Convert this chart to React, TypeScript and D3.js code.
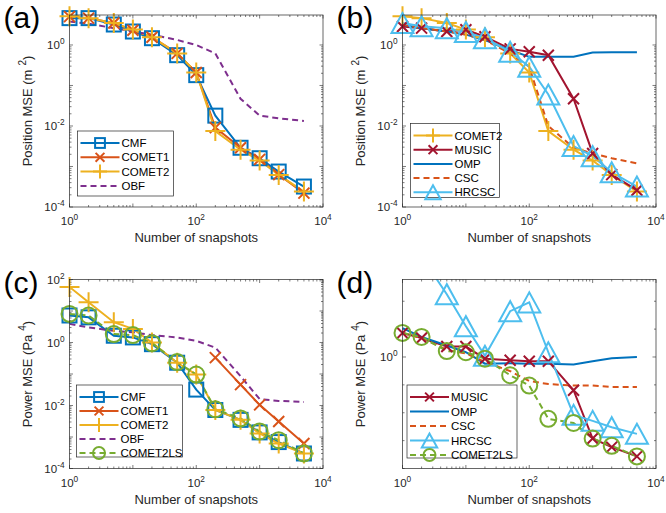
import * as d3 from "d3";
import React from "react";

// number of snapshots (x axis of every panel)
const snapshots = [1, 2, 5, 10, 20, 50, 100, 200, 500, 1000, 2000, 5000];

// (a) position MSE
const cmfPos = [4.6, 4.6, 3.2, 2.15, 1.47, 0.56, 0.18, 0.018, 0.0029, 0.0016, 7.5e-4, 3.2e-4];
const comet1Pos = [5.0, 4.6, 3.5, 2.3, 1.55, 0.62, 0.21, 0.0091, 0.0029, 0.0015, 6.3e-4, 2.2e-4];
const comet2Pos = [5.1, 4.6, 3.5, 2.4, 1.55, 0.62, 0.21, 0.0075, 0.0026, 0.0014, 6.2e-4, 2.4e-4];
const obfPos = [3.8, 3.35, 2.6, 2.15, 1.8, 1.33, 1.0, 0.62, 0.047, 0.018, 0.0155, 0.0133];

// (b) position MSE, other methods
const musicPos = [2.87, 2.6, 2.15, 2.37, 1.6, 0.8, 0.68, 0.56, 0.047, 0.0021, 6.3e-4, 2.6e-4];
const ompPos = [3.16, 2.6, 2.15, 1.8, 1.33, 0.75, 0.51, 0.51, 0.51, 0.65, 0.66, 0.66];
const cscPos = [3.16, 2.6, 2.15, 1.8, 1.33, 0.62, 0.29, 0.01, 0.0029, 0.0021, 0.0016, 0.0012];
const hrcscPos = [3.47, 2.9, 2.6, 2.1, 1.47, 0.68, 0.29, 0.06, 0.0032, 0.0018, 7.2e-4, 3.2e-4];

// (c) power MSE
const cmfPow = [7.2, 6.3, 1.64, 1.45, 0.885, 0.228, 0.032, 0.0072, 0.0035, 0.0014, 6.9e-4, 3.0e-4];
const comet1Pow = [null, null, null, null, null, null, null, 0.33, 0.046, 0.0105, 0.0031, 6.2e-4];
const comet2Pow = [58, 19, 4.4, 2.7, 1.0, 0.228, 0.096, 0.0072, 0.0035, 0.0013, 6.2e-4, 3.0e-4];
const obfPow = [3.9, 3.0, 2.35, 2.1, 1.72, 1.45, 1.13, 0.69, 0.085, 0.016, 0.014, 0.013];
const comet2lsPow = [8.1, 7.2, 1.85, 1.72, 0.95, 0.24, 0.096, 0.0076, 0.0039, 0.0015, 7.9e-4, 3.0e-4];

// (d) power MSE, other methods
const musicPow = [1.22, 1.17, 1.09, 1.09, 0.986, 0.973, 0.966, 0.966, 0.76, 0.51, 0.475, 0.44];
const ompPow = [1.27, 1.18, 1.1, 1.04, 0.946, 0.95, 0.946, 0.946, 0.94, 0.966, 0.99, 1.0];
const cscPow = [1.22, 1.17, 1.06, 1.03, 0.96, 0.89, 0.82, 0.8, 0.79, 0.79, 0.78, 0.78];
const hrcscPow = [3.16, 2.29, 1.68, 1.29, 1.01, 1.46, 1.57, 1.04, 0.62, 0.59, 0.56, 0.53];
const comet2lsPowD = [1.22, 1.18, 1.05, 1.04, 0.986, 0.86, 0.79, 0.6, 0.58, 0.51, 0.48, 0.44];

const C = {
  blue: "#0072BD",
  orange: "#D95319",
  yellow: "#EDB120",
  purple: "#7E2F8E",
  green: "#77AC30",
  cyan: "#4DBEEE",
  red: "#A2142F",
};

const FONT = "'Liberation Sans', Arial, Helvetica, sans-serif";
const AX = "#262626";

type Series = { name: string; values: (number | null)[]; color: string; dash?: string; marker?: string };

function Marker({ type, x, y, color, legend }: { type?: string; x: number; y: number; color: string; legend?: boolean }) {
  const k = legend ? 0.7 : 1;
  const sw = 2;
  if (type === "square") {
    const s = 14 * k;
    return <rect x={x - s / 2} y={y - s / 2} width={s} height={s} fill="none" stroke={color} strokeWidth={sw} />;
  }
  if (type === "x") {
    const h = 5.5 * (legend ? 0.8 : 1);
    return (
      <path d={`M${x - h},${y - h}L${x + h},${y + h}M${x - h},${y + h}L${x + h},${y - h}`} stroke={color} strokeWidth={sw} />
    );
  }
  if (type === "plus") {
    const h = 10 * k;
    return <path d={`M${x - h},${y}L${x + h},${y}M${x},${y - h}L${x},${y + h}`} stroke={color} strokeWidth={sw} />;
  }
  if (type === "tri") {
    const w = 11 * k;
    const h = 10 * k;
    return (
      <polygon
        points={`${x},${y - h} ${x - w},${y + h} ${x + w},${y + h}`}
        fill="none"
        stroke={color}
        strokeWidth={sw}
      />
    );
  }
  if (type === "circle") {
    return <circle cx={x} cy={y} r={8 * (legend ? 0.75 : 1)} fill="none" stroke={color} strokeWidth={sw} />;
  }
  return null;
}

function Pow({ base, exp, size = 11.5 }: { base: string; exp: string; size?: number }) {
  return (
    <>
      {base}
      <tspan dy={-5} fontSize={size * 0.72}>
        {exp}
      </tspan>
    </>
  );
}

type PanelProps = {
  id: string;
  tag: string;
  left: number;
  top: number;
  width: number;
  height: number;
  yDomain: [number, number];
  yTicks: number[];
  yLabels: { v: number; exp: string }[];
  yTitle: string;
  yUnitExp: string;
  series: Series[];
  legend: { x: number; y: number; w: number; h: number; step: number };
};

function Panel(p: PanelProps) {
  const x = d3.scaleLog().domain([1, 1e4]).range([p.left, p.left + p.width]);
  const y = d3.scaleLog().domain(p.yDomain).range([p.top + p.height, p.top]);
  const bottom = p.top + p.height;
  const right = p.left + p.width;

  const xMinor: number[] = [];
  for (let d = 1; d < 1e4; d *= 10) for (let k = 2; k < 10; k++) xMinor.push(d * k);
  const xMajor = [1, 10, 100, 1000, 10000];

  const line = d3
    .line<[number, number | null]>()
    .defined((d) => d[1] != null)
    .x((d) => x(d[0]))
    .y((d) => y(d[1] as number));

  const inside = (v: number | null) => v != null && v >= p.yDomain[0] && v <= p.yDomain[1];

  return (
    <g fontFamily={FONT}>
      <defs>
        <clipPath id={`clip-${p.id}`}>
          <rect x={p.left} y={p.top} width={p.width} height={p.height} />
        </clipPath>
      </defs>
      <rect x={p.left} y={p.top} width={p.width} height={p.height} fill="#fff" />

      {/* ticks on all four sides */}
      <g stroke={AX} strokeWidth={0.6}>
        {xMajor.concat(xMinor).map((v, i) => {
          const len = xMajor.includes(v) ? 3.5 : 2;
          const px = x(v);
          return (
            <g key={"xt" + i}>
              <line x1={px} x2={px} y1={bottom} y2={bottom - len} />
              <line x1={px} x2={px} y1={p.top} y2={p.top + len} />
            </g>
          );
        })}
        {p.yTicks.map((v, i) => {
          const major = p.yLabels.some((l) => Math.abs(l.v - v) < 1e-12) || Math.abs(Math.log10(v) % 1) < 1e-9;
          const len = major ? 3.5 : 2;
          const py = y(v);
          return (
            <g key={"yt" + i}>
              <line x1={p.left} x2={p.left + len} y1={py} y2={py} />
              <line x1={right} x2={right - len} y1={py} y2={py} />
            </g>
          );
        })}
      </g>

      {/* data */}
      <g clipPath={`url(#clip-${p.id})`}>
        {p.series.map((s) => (
          <path
            key={s.name + "-line"}
            d={line(snapshots.map((t, i) => [t, s.values[i]]) as [number, number | null][]) || ""}
            fill="none"
            stroke={s.color}
            strokeWidth={2}
            strokeDasharray={s.dash}
          />
        ))}
      </g>
      {p.series.map((s) => (
        <g key={s.name + "-mk"}>
          {snapshots.map((t, i) =>
            inside(s.values[i]) ? (
              <Marker key={i} type={s.marker} x={x(t)} y={y(s.values[i] as number)} color={s.color} />
            ) : null
          )}
        </g>
      ))}

      <rect x={p.left} y={p.top} width={p.width} height={p.height} fill="none" stroke={AX} strokeWidth={0.7} />

      {/* tick labels */}
      <g fontSize={11.5} fill={AX}>
        {[1, 100, 10000].map((v) => (
          <text key={"xl" + v} x={x(v)} y={bottom + 18} textAnchor="middle">
            <Pow base="10" exp={String(Math.round(Math.log10(v)))} />
          </text>
        ))}
        {p.yLabels.map((l) => (
          <text key={"yl" + l.exp} x={p.left - 5} y={y(l.v) + 4} textAnchor="end">
            <Pow base="10" exp={l.exp} />
          </text>
        ))}
      </g>

      <text x={p.left + p.width / 2} y={bottom + 35} textAnchor="middle" fontSize={13} fill={AX}>
        Number of snapshots
      </text>
      <text
        transform={`translate(${p.left - 38},${p.top + p.height / 2}) rotate(-90)`}
        textAnchor="middle"
        fontSize={13}
        fill={AX}
      >
        {p.yTitle}
        <tspan dy={-6} fontSize={10} dx={4}>
          {p.yUnitExp}
        </tspan>
        <tspan dy={6}>)</tspan>
      </text>

      {/* legend */}
      <g>
        <rect x={p.legend.x} y={p.legend.y} width={p.legend.w} height={p.legend.h} fill="#fff" stroke={AX} strokeWidth={0.7} />
        {p.series.map((s, i) => {
          const ly = p.legend.y + 12 + i * p.legend.step;
          const lx = p.legend.x + 3;
          return (
            <g key={s.name + "-lg"}>
              <line x1={lx} x2={lx + 39} y1={ly} y2={ly} stroke={s.color} strokeWidth={2} strokeDasharray={s.dash} />
              <Marker type={s.marker} x={lx + 19.5} y={ly} color={s.color} legend />
              <text x={lx + 41} y={ly + 4} fontSize={11.5} fill="#000">
                {s.name}
              </text>
            </g>
          );
        })}
      </g>

      <text x={p.left - 66} y={p.top + 13} fontSize={30} fill="#000">
        {p.tag}
      </text>
    </g>
  );
}

function decadeTicks(lo: number, hi: number) {
  const out: number[] = [];
  for (let e = lo; e < hi; e++) for (let k = 1; k < 10; k++) out.push(k * Math.pow(10, e));
  out.push(Math.pow(10, hi));
  return out;
}

const DASH = "6,4";

export default function App() {
  const posTicks = decadeTicks(-4, 0);
  const posLabels = [
    { v: 1, exp: "0" },
    { v: 1e-2, exp: "-2" },
    { v: 1e-4, exp: "-4" },
  ];
  const powTicks = decadeTicks(-4, 2);
  const powLabels = [
    { v: 100, exp: "2" },
    { v: 1, exp: "0" },
    { v: 1e-2, exp: "-2" },
    { v: 1e-4, exp: "-4" },
  ];
  const dTicks = [-4, -3, -2, -1, 0, 1, 2].map((k) => Math.pow(10, k / 10));

  const posDomain: [number, number] = [1e-4, Math.pow(10, 0.74)];

  return (
    <svg width={666} height={513} style={{ position: "absolute", left: 0, top: 0, background: "#fff" }}>
      <Panel
        id="a"
        tag="(a)"
        left={69.5}
        top={15}
        width={253.5}
        height={192}
        yDomain={posDomain}
        yTicks={posTicks}
        yLabels={posLabels}
        yTitle="Position MSE (m"
        yUnitExp="2"
        series={[
          { name: "CMF", values: cmfPos, color: C.blue, marker: "square" },
          { name: "COMET1", values: comet1Pos, color: C.orange, marker: "x" },
          { name: "COMET2", values: comet2Pos, color: C.yellow, marker: "plus" },
          { name: "OBF", values: obfPos, color: C.purple, dash: DASH },
        ]}
        legend={{ x: 77.5, y: 131, w: 96, h: 65, step: 14.3 }}
      />
      <Panel
        id="b"
        tag="(b)"
        left={402.5}
        top={15}
        width={253.5}
        height={192}
        yDomain={posDomain}
        yTicks={posTicks}
        yLabels={posLabels}
        yTitle="Position MSE (m"
        yUnitExp="2"
        series={[
          { name: "COMET2", values: comet2Pos, color: C.yellow, marker: "plus" },
          { name: "MUSIC", values: musicPos, color: C.red, marker: "x" },
          { name: "OMP", values: ompPos, color: C.blue },
          { name: "CSC", values: cscPos, color: C.orange, dash: DASH },
          { name: "HRCSC", values: hrcscPos, color: C.cyan, marker: "tri" },
        ]}
        legend={{ x: 410.5, y: 123.5, w: 89, h: 74, step: 14.2 }}
      />
      <Panel
        id="c"
        tag="(c)"
        left={69.5}
        top={279.5}
        width={253.5}
        height={189}
        yDomain={[1e-4, 1e2]}
        yTicks={powTicks}
        yLabels={powLabels}
        yTitle="Power MSE (Pa"
        yUnitExp="4"
        series={[
          { name: "CMF", values: cmfPow, color: C.blue, marker: "square" },
          { name: "COMET1", values: comet1Pow, color: C.orange, marker: "x" },
          { name: "COMET2", values: comet2Pow, color: C.yellow, marker: "plus" },
          { name: "OBF", values: obfPow, color: C.purple, dash: DASH },
          { name: "COMET2LS", values: comet2lsPow, color: C.green, dash: DASH, marker: "circle" },
        ]}
        legend={{ x: 76.5, y: 385, w: 106, h: 72, step: 14 }}
      />
      <Panel
        id="d"
        tag="(d)"
        left={402.5}
        top={279.5}
        width={253.5}
        height={189}
        yDomain={[Math.pow(10, -0.4), Math.pow(10, 0.278)]}
        yTicks={dTicks}
        yLabels={[{ v: 1, exp: "0" }]}
        yTitle="Power MSE (Pa"
        yUnitExp="4"
        series={[
          { name: "MUSIC", values: musicPow, color: C.red, marker: "x" },
          { name: "OMP", values: ompPow, color: C.blue },
          { name: "CSC", values: cscPow, color: C.orange, dash: DASH },
          { name: "HRCSC", values: hrcscPow, color: C.cyan, marker: "tri" },
          { name: "COMET2LS", values: comet2lsPowD, color: C.green, dash: DASH, marker: "circle" },
        ]}
        legend={{ x: 407, y: 385, w: 110, h: 73, step: 14.5 }}
      />
    </svg>
  );
}
